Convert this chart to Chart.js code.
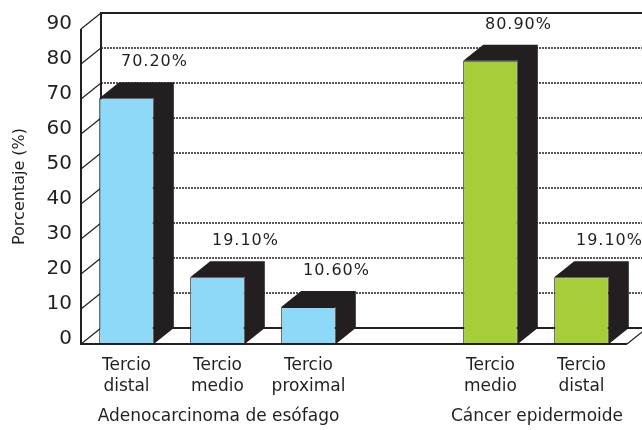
<!DOCTYPE html>
<html>
<head>
<meta charset="utf-8">
<script src="https://cdn.jsdelivr.net/npm/chart.js@4"></script>
<style>
  body { margin: 0; background: #fff; }
  canvas { display: block; }
</style>
</head>
<body>
<canvas id="esophagusChart" width="642" height="430"></canvas>
<script>
// Data
const categories = [["Tercio", "distal"], ["Tercio", "medio"], ["Tercio", "proximal"], "", ["Tercio", "medio"], ["Tercio", "distal"]];
const values = [70.2, 19.1, 10.6, null, 80.9, 19.1];
const valueLabels = ["70.20%", "19.10%", "10.60%", "", "80.90%", "19.10%"];
const groupNames = ["Adenocarcinoma de esófago", "Cáncer epidermoide"];
const groupOfBar = [0, 0, 0, null, 1, 1];
const yMin = 0;
const yMax = 90;
const yStep = 10;

const DARK = "#231f20";
const GROUP_COLORS = ["#8ed8f8", "#a6ce39"];
const DEPTH_X = 20;
const DEPTH_Y = -16;
const FONT = "'DejaVu Sans', sans-serif";

// Draws the back wall, the depth lines and the side/top faces of the bars
const threeD = {
  id: "threeD",
  beforeDatasetsDraw(chart) {
    const { ctx, chartArea: a, scales: { y } } = chart;
    const W = chart.width;
    ctx.save();
    ctx.strokeStyle = DARK;

    // dashed grid on the back wall
    ctx.lineWidth = 1.6;
    ctx.setLineDash([2, 1]);
    for (let v = yMin + yStep; v < yMax; v += yStep) {
      const py = y.getPixelForValue(v) + DEPTH_Y;
      ctx.beginPath();
      ctx.moveTo(a.left + DEPTH_X, py);
      ctx.lineTo(W, py);
      ctx.stroke();
    }
    ctx.setLineDash([]);

    // solid back top and bottom edges, back left edge
    ctx.lineWidth = 2;
    const top = y.getPixelForValue(yMax) + DEPTH_Y;
    const bot = y.getPixelForValue(yMin) + DEPTH_Y;
    ctx.beginPath();
    ctx.moveTo(W, top);
    ctx.lineTo(a.left + DEPTH_X, top);
    ctx.lineTo(a.left + DEPTH_X, bot);
    ctx.lineTo(W, bot);
    ctx.stroke();

    // diagonals from the front axis to the wall
    ctx.lineWidth = 1.3;
    for (let v = yMin; v <= yMax; v += yStep) {
      const py = y.getPixelForValue(v);
      ctx.beginPath();
      ctx.moveTo(a.left, py);
      ctx.lineTo(a.left + DEPTH_X, py + DEPTH_Y);
      ctx.stroke();
    }
    // floor right edge
    ctx.beginPath();
    ctx.moveTo(a.right, a.bottom);
    ctx.lineTo(a.right + DEPTH_X, a.bottom + DEPTH_Y);
    ctx.stroke();

    // side and top faces
    ctx.fillStyle = DARK;
    chart.getDatasetMeta(0).data.forEach((bar, i) => {
      if (values[i] == null) return;
      const { x, y: top, base, width } = bar.getProps(["x", "y", "base", "width"], true);
      const x1 = x - width / 2;
      const x2 = x + width / 2;
      ctx.beginPath();
      ctx.moveTo(x1, top);
      ctx.lineTo(x1 + DEPTH_X, top + DEPTH_Y);
      ctx.lineTo(x2 + DEPTH_X, top + DEPTH_Y);
      ctx.lineTo(x2 + DEPTH_X, base + DEPTH_Y);
      ctx.lineTo(x2, base);
      ctx.lineTo(x2, top);
      ctx.closePath();
      ctx.fill();
    });
    ctx.restore();
  },
  afterDatasetsDraw(chart) {
    const { ctx, chartArea: a } = chart;
    ctx.save();
    ctx.strokeStyle = DARK;
    ctx.lineWidth = 2;
    ctx.beginPath();
    ctx.moveTo(a.left, a.top);
    ctx.lineTo(a.left, a.bottom);
    ctx.lineTo(a.right, a.bottom);
    ctx.stroke();
    ctx.restore();
  },
  afterDraw(chart) {
    const { ctx } = chart;
    const bars = chart.getDatasetMeta(0).data;
    ctx.save();
    ctx.fillStyle = DARK;
    ctx.textAlign = "center";
    ctx.textBaseline = "middle";

    // value labels, up and to the right of each bar
    ctx.font = "16px " + FONT;
    ctx.letterSpacing = "1px";
    bars.forEach((bar, i) => {
      if (!valueLabels[i]) return;
      ctx.fillText(valueLabels[i], bar.x + 28, bar.y - 36);
    });

    // group names under the category labels
    ctx.font = "17px " + FONT;
    ctx.letterSpacing = "0px";
    groupNames.forEach((name, g) => {
      const xs = bars.filter((b, i) => groupOfBar[i] === g).map((b) => b.x);
      const cx = xs.reduce((s, v) => s + v, 0) / xs.length;
      ctx.fillText(name, cx + 1, 417);
    });
    ctx.restore();
  },
};

const ctx = document.getElementById("esophagusChart").getContext("2d");

new Chart(ctx, {
  type: "bar",
  data: {
    labels: categories,
    datasets: [
      {
        data: values,
        backgroundColor: groupOfBar.map((g) => (g == null ? "transparent" : GROUP_COLORS[g])),
        borderColor: DARK,
        borderWidth: 1,
        barPercentage: 0.6,
        categoryPercentage: 1,
      },
    ],
  },
  options: {
    responsive: false,
    animation: false,
    layout: { padding: { top: 29, right: 15, bottom: 0, left: 0 } },
    plugins: {
      legend: { display: false },
      tooltip: { enabled: false },
    },
    scales: {
      x: {
        grid: { display: false, drawTicks: false },
        border: { display: false },
        ticks: {
          color: DARK,
          padding: 12,
          maxRotation: 0,
          autoSkip: false,
          font: { family: FONT, size: 17, lineHeight: 1.18 },
        },
        afterFit: (scale) => {
          scale.height = 86;
        },
      },
      y: {
        min: yMin,
        max: yMax,
        grid: { display: false, drawTicks: false },
        border: { display: false },
        ticks: {
          stepSize: yStep,
          color: DARK,
          padding: 9,
          labelOffset: -5,
          font: { family: FONT, size: 20 },
        },
        title: {
          display: true,
          text: "Porcentaje (%)",
          color: DARK,
          padding: { top: 10, bottom: 0 },
          font: { family: FONT, size: 16 },
        },
        afterFit: (scale) => {
          scale.width = 81;
        },
      },
    },
  },
  plugins: [threeD],
});
</script>
</body>
</html>
